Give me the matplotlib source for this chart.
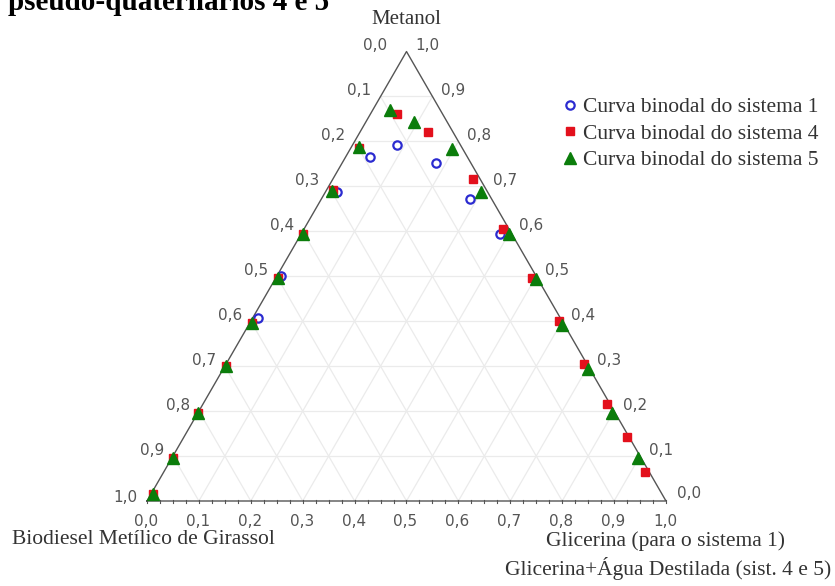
import numpy as np
import matplotlib
matplotlib.use("Agg")
import matplotlib.pyplot as plt

# --- Data (mass fractions) ---
# metanol = top vertex, glicerina = bottom-right vertex, biodiesel = rest
metanol_s1 = [0.791, 0.766, 0.751, 0.673, 0.688, 0.595, 0.501, 0.408]
glicerina_s1 = [0.087, 0.046, 0.181, 0.285, 0.023, 0.382, 0.008, 0.010]

metanol_s4 = [0.016, 0.096, 0.196, 0.301, 0.396, 0.497, 0.595, 0.693, 0.786,
              0.860, 0.822, 0.717, 0.606, 0.497, 0.401, 0.305, 0.216, 0.143, 0.065]
glicerina_s4 = [0.004, 0.002, 0.000, 0.001, 0.005, 0.003, 0.004, 0.011, 0.016,
                0.051, 0.130, 0.269, 0.382, 0.493, 0.593, 0.689, 0.778, 0.854, 0.927]

metanol_s5 = [0.016, 0.096, 0.196, 0.301, 0.396, 0.497, 0.595, 0.690, 0.788,
              0.871, 0.844, 0.784, 0.688, 0.595, 0.494, 0.392, 0.294, 0.196, 0.096]
glicerina_s5 = [0.004, 0.002, 0.000, 0.001, 0.005, 0.003, 0.004, 0.012, 0.015,
                0.032, 0.093, 0.195, 0.299, 0.400, 0.502, 0.603, 0.702, 0.798, 0.898]

tick_values = np.round(np.arange(0, 1.01, 0.1), 1)
tick_labels = [f"{v:.1f}".replace(".", ",") for v in tick_values]

legend_labels = ["Curva binodal do sistema 1",
                 "Curva binodal do sistema 4",
                 "Curva binodal do sistema 5"]

H = np.sqrt(3) / 2


def to_xy(m, g):
    m = np.asarray(m, dtype=float)
    g = np.asarray(g, dtype=float)
    return g + m / 2, m * H


# --- Figure ---
W, HPX = 835, 586
fig = plt.figure(figsize=(W / 100, HPX / 100), dpi=100)
ax = fig.add_axes([0, 0, 1, 1])
x0, y0, scale = 147, 501, 519.0
ax.set_xlim(-x0 / scale, (W - x0) / scale)
ax.set_ylim((y0 - HPX) / scale, y0 / scale)
ax.axis("off")

serif = ["Liberation Serif", "DejaVu Serif"]
sans = ["DejaVu Sans"]

# faint grid
gc = "#ebebeb"
for v in np.arange(0.1, 1.0, 0.1):
    xs, ys = to_xy([v, v], [0, 1 - v])          # constant metanol
    ax.plot(xs, ys, color=gc, lw=0.9, zorder=1)
    xs, ys = to_xy([0, 1 - v], [v, v])          # constant glicerina
    ax.plot(xs, ys, color=gc, lw=0.9, zorder=1)
    xs, ys = to_xy([0, 1 - v], [1 - v, 0])      # constant biodiesel
    ax.plot(xs, ys, color=gc, lw=0.9, zorder=1)

# triangle frame
xs, ys = to_xy([0, 0, 1, 0], [0, 1, 0, 0])
ax.plot(xs, ys, color="#555555", lw=1.0, zorder=2)

# small ticks along the bottom axis
for t in np.arange(0, 1.0001, 0.025):
    ax.plot([t, t], [-1.5 / scale, 1.5 / scale], color="#555555", lw=0.8, zorder=2)

# tick labels
tk = dict(fontsize=11, color="#555555", family=sans)
for v, lab in zip(tick_values, tick_labels):
    # bottom axis (glicerina)
    ax.annotate(lab, to_xy(0, v), xytext=(-1, -21), textcoords="offset pixels",
                ha="center", va="center", **tk)
    # right axis (metanol)
    x, y = to_xy(v, 1 - v)
    off = (11, 8) if v == 0 else (8.5, 6)
    ax.annotate(lab, (x, y), xytext=off, textcoords="offset pixels",
                ha="left", va="center", **tk)
    # left axis (biodiesel)
    x, y = to_xy(1 - v, 0)
    if v == 0:
        off = (-19, 6)
    elif v == 1:
        off = (-10, 4)
    else:
        off = (-9, 6)
    ax.annotate(lab, (x, y), xytext=off, textcoords="offset pixels",
                ha="right", va="center", **tk)

# data
x1, y1 = to_xy(metanol_s1, glicerina_s1)
x4, y4 = to_xy(metanol_s4, glicerina_s4)
x5, y5 = to_xy(metanol_s5, glicerina_s5)
ax.plot(x1, y1, "o", ls="none", ms=6, mfc="none", mec="#2b2bd0", mew=1.6,
        zorder=3, label=legend_labels[0])
ax.plot(x4, y4, "s", ls="none", ms=5.5, color="#e3101c", zorder=4,
        label=legend_labels[1])
ax.plot(x5, y5, "^", ls="none", ms=8, color="#0b7d0b", zorder=5,
        label=legend_labels[2])

leg = ax.legend(loc="upper left", bbox_to_anchor=(565 / W, 1 - 97 / HPX),
                bbox_transform=fig.transFigure, frameon=False,
                prop={"family": serif, "size": 15.5}, handlelength=0.5,
                handletextpad=0.35, labelspacing=0.3, borderpad=0,
                borderaxespad=0)
for t in leg.get_texts():
    t.set_color("#333333")

# axis titles
fig.text(406 / W, 1 - 19 / HPX, "Metanol", ha="center", va="center",
         family=serif, fontsize=15, color="#333333")
fig.text(12 / W, 1 - 539 / HPX, "Biodiesel Metílico de Girassol", ha="left",
         va="center", family=serif, fontsize=15.5, color="#333333")
fig.text(665 / W, 1 - 541 / HPX, "Glicerina (para o sistema 1)", ha="center",
         va="center", family=serif, fontsize=15.5, color="#333333")
fig.text(668 / W, 1 - 569 / HPX, "Glicerina+Água Destilada (sist. 4 e 5)",
         ha="center", va="center", family=serif, fontsize=15.5, color="#333333")

# clipped caption line from the page above
fig.text(8 / W, 1 - 10 / HPX, "pseudo-quaternários 4 e 5", ha="left",
         va="baseline", family=serif, fontsize=21, fontweight="bold", color="black")

fig.savefig("out.png", dpi=100)
